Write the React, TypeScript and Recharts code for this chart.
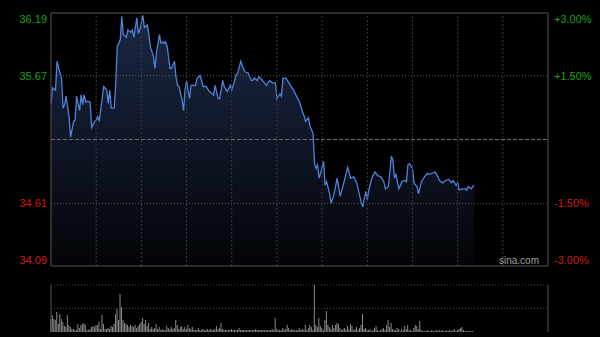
import { AreaChart, Area, BarChart, Bar, XAxis, YAxis, ReferenceLine } from "recharts";

// trading minutes since open (330 min session) and last price
const minutes = [
  0, 1, 3, 4, 6, 7, 8, 9, 10, 12, 13, 15, 16, 17, 19, 20, 21, 22, 23, 24, 26, 27, 29, 30, 31, 32, 35, 37, 38, 39,
  40, 42, 43, 44, 46, 47, 48, 50, 51, 53, 54, 55, 57, 58, 59, 61, 62, 64, 65, 66, 68, 69, 70, 72, 73, 74, 75, 76, 77, 78,
  79, 80, 82, 83, 84, 85, 87, 88, 89, 90, 91, 92, 93, 95, 96, 97, 99, 100, 101, 103, 105, 106, 108, 109, 111, 112, 114, 115, 117, 119,
  120, 122, 123, 124, 126, 128, 129, 131, 133, 134, 135, 137, 138, 139, 141, 143, 144, 145, 147, 149, 150, 152, 153, 154, 156, 158, 159, 161, 163, 165,
  167, 168, 169, 171, 172, 174, 175, 176, 177, 178, 179, 181, 182, 183, 185, 186, 188, 190, 192, 194, 197, 199, 201, 203, 205, 206, 207, 209, 210, 211,
  213, 215, 217, 219, 221, 222, 224, 225, 226, 227, 228, 229, 230, 231, 233, 235, 236, 237, 238, 240, 241, 243, 244, 246, 248, 250, 251, 253, 255, 256,
  258, 260, 262, 264, 266, 267, 269, 270, 271, 273, 275, 276, 277, 279, 280, 281,
];
const prices = [
  35.44, 35.57, 35.55, 35.79, 35.69, 35.65, 35.4, 35.43, 35.5, 35.33, 35.16, 35.29, 35.3, 35.5, 35.38, 35.51, 35.43, 35.51, 35.45, 35.46, 35.45, 35.24, 35.29, 35.3, 35.33, 35.29, 35.58, 35.55, 35.44, 35.55,
  35.4, 35.4, 35.61, 35.91, 35.97, 36.16, 36.01, 35.99, 36.05, 36.03, 36.05, 35.99, 36.15, 36.02, 36.05, 36.17, 36.07, 36.09, 36.01, 35.91, 35.83, 35.73, 35.86, 36.01, 35.94, 35.95, 35.94, 35.95, 35.92, 35.83,
  35.73, 35.73, 35.79, 35.66, 35.59, 35.58, 35.47, 35.38, 35.55, 35.63, 35.55, 35.48, 35.59, 35.59, 35.59, 35.65, 35.67, 35.63, 35.58, 35.58, 35.54, 35.53, 35.51, 35.59, 35.48, 35.48, 35.63, 35.58, 35.54, 35.59,
  35.55, 35.63, 35.68, 35.69, 35.79, 35.72, 35.7, 35.69, 35.63, 35.63, 35.65, 35.63, 35.66, 35.65, 35.62, 35.59, 35.61, 35.63, 35.61, 35.61, 35.48, 35.52, 35.5, 35.65, 35.65, 35.61, 35.59, 35.55, 35.5, 35.45,
  35.37, 35.34, 35.29, 35.32, 35.25, 35.19, 34.94, 34.9, 34.93, 34.82, 34.86, 34.96, 34.76, 34.79, 34.69, 34.61, 34.69, 34.82, 34.67, 34.76, 34.91, 34.82, 34.83, 34.78, 34.67, 34.62, 34.58, 34.71, 34.64, 34.72,
  34.82, 34.87, 34.84, 34.83, 34.79, 34.73, 34.75, 34.87, 35.0, 34.97, 34.82, 34.85, 34.79, 34.73, 34.79, 34.8, 34.79, 34.93, 34.94, 34.9, 34.78, 34.75, 34.69, 34.79, 34.83, 34.86, 34.85, 34.86, 34.87, 34.85,
  34.8, 34.78, 34.8, 34.81, 34.78, 34.8, 34.76, 34.78, 34.72, 34.73, 34.73, 34.72, 34.75, 34.73, 34.75, 34.76,
];
// volume per minute, index = minute
const volumes = [
  13, 17, 13, 12, 20, 8, 18, 13, 10, 6,
  5, 17, 7, 5, 3, 3, 2, 2, 8, 4,
  7, 8, 9, 7, 2, 2, 3, 5, 6, 5,
  7, 7, 10, 3, 17, 8, 3, 3, 4, 3,
  6, 5, 8, 18, 23, 12, 38, 25, 12, 9,
  8, 7, 5, 7, 6, 5, 7, 4, 6, 8,
  10, 14, 8, 12, 6, 9, 3, 5, 3, 4,
  8, 3, 5, 2, 3, 2, 2, 6, 4, 3,
  5, 3, 4, 12, 7, 3, 5, 6, 3, 5,
  3, 7, 4, 3, 5, 2, 2, 2, 4, 2,
  2, 3, 2, 2, 3, 2, 3, 2, 2, 3,
  6, 3, 4, 9, 3, 2, 2, 2, 2, 2,
  3, 2, 2, 2, 2, 4, 2, 2, 2, 2,
  2, 2, 2, 2, 2, 2, 3, 2, 2, 2,
  2, 2, 2, 2, 2, 2, 2, 3, 2, 14,
  3, 2, 2, 2, 4, 2, 3, 7, 4, 2,
  3, 2, 2, 2, 2, 4, 2, 3, 2, 7,
  2, 4, 7, 5, 2, 47, 7, 5, 14, 6,
  4, 2, 12, 21, 7, 5, 3, 7, 4, 7,
  9, 8, 4, 2, 3, 4, 2, 6, 3, 8,
  6, 2, 3, 5, 2, 4, 7, 18, 3, 4,
  2, 2, 3, 1, 2, 4, 6, 2, 1, 2,
  3, 4, 2, 7, 12, 5, 9, 3, 2, 2,
  4, 3, 1, 3, 2, 6, 3, 7, 2, 2,
  1, 4, 7, 6, 3, 11, 2, 1, 1, 1,
  2, 1, 1, 2, 1, 1, 2, 1, 2, 1,
  2, 1, 1, 2, 1, 2, 1, 2, 3, 1,
  2, 3, 4, 5, 2, 1, 1, 1, 1, 1,
  1,
];

const priceTicks = [36.19, 35.67, 34.61, 34.09];
const pctTicks = [3, 1.5, -1.5, -3];
const prevClose = 35.14;
const sessionLength = 330;
const timeGrid = [30, 60, 90, 120, 150, 180, 210, 240, 270, 300];
const volumeTicks = [47, 23.5];

const priceData = minutes.map((m, i) => ({
  minute: m,
  price: prices[i],
  pct: (prices[i] / prevClose - 1) * 100,
}));
const volumeData = volumes.map((v, i) => ({ minute: i, volume: v }));

const FONT = "'Liberation Sans', Arial, sans-serif";
const UP = "#17a317";
const DOWN = "#d01818";
const BORDER = "#555";

const edgeShift = (i: number, n: number) => (i === 0 ? 6 : i === n - 1 ? -6 : 0);

const PriceTick = (props: any) => {
  const { x, y, payload, index } = props;
  const v = payload.value;
  return (
    <text x={x} y={y + edgeShift(index, priceTicks.length)} dy={4} textAnchor="end" fill={v > prevClose ? UP : DOWN} fontSize={11} fontFamily={FONT}>
      {v.toFixed(2)}
    </text>
  );
};

const PctTick = (props: any) => {
  const { x, y, payload, index } = props;
  const v = payload.value;
  return (
    <text x={x} y={y + edgeShift(index, pctTicks.length)} dy={4} textAnchor="start" fill={v > 0 ? UP : DOWN} fontSize={11} fontFamily={FONT}>
      {(v > 0 ? "+" : "") + v.toFixed(2) + "%"}
    </text>
  );
};

export default function App() {
  return (
    <div style={{ position: "fixed", left: 0, top: 0, width: 600, height: 337, background: "#000", overflow: "hidden" }}>
      <AreaChart width={600} height={270} data={priceData} margin={{ top: 13, right: 0, left: 0, bottom: 4 }}>
        <defs>
          <linearGradient id="priceFill" x1="0" y1="0" x2="0" y2="1">
            <stop offset="0%" stopColor="#4a6fc0" stopOpacity={0.36} />
            <stop offset="100%" stopColor="#4a6fc0" stopOpacity={0.04} />
          </linearGradient>
        </defs>
        <XAxis dataKey="minute" type="number" domain={[0, sessionLength]} hide />
        <YAxis
          domain={[priceTicks[priceTicks.length - 1], priceTicks[0]]}
          ticks={priceTicks}
          width={51}
          axisLine={false}
          tickLine={false}
          tickSize={0}
          tickMargin={4}
          tick={PriceTick}
          interval={0}
          allowDataOverflow
        />
        <YAxis
          yAxisId="pct"
          orientation="right"
          domain={[-3, 3]}
          ticks={pctTicks}
          width={52}
          axisLine={false}
          tickLine={false}
          tickSize={0}
          tickMargin={6}
          tick={PctTick}
          interval={0}
          allowDataOverflow
        />
        {timeGrid.map((t) => (
          <ReferenceLine key={t} x={t} stroke="#3a3a3a" strokeDasharray="2 2" />
        ))}
        <ReferenceLine y={priceTicks[1]} stroke="#5a5a5a" strokeDasharray="1 2" />
        <ReferenceLine y={priceTicks[2]} stroke="#5a5a5a" strokeDasharray="1 2" />
        <ReferenceLine y={prevClose} stroke="#6e6e6e" strokeDasharray="4 2" />
        <Area
          yAxisId="pct"
          type="linear"
          dataKey="pct"
          stroke="none"
          fill="none"
          dot={false}
          activeDot={false}
          isAnimationActive={false}
        />
        <Area
          type="linear"
          dataKey="price"
          stroke="#4f82d8"
          strokeWidth={1.3}
          fill="url(#priceFill)"
          fillOpacity={1}
          dot={false}
          activeDot={false}
          isAnimationActive={false}
        />
        <ReferenceLine y={priceTicks[0]} stroke={BORDER} />
        <ReferenceLine y={priceTicks[priceTicks.length - 1]} stroke={BORDER} />
        <ReferenceLine x={0} stroke={BORDER} />
        <ReferenceLine x={sessionLength} stroke={BORDER} />
      </AreaChart>
      <div style={{ position: "absolute", left: 499, top: 255, fontFamily: FONT, fontSize: 10, color: "#a0a0a0" }}>sina.com</div>
      <div style={{ position: "absolute", left: 0, top: 280 }}>
        <BarChart width={600} height={57} data={volumeData} margin={{ top: 5, right: 52, left: 51, bottom: 5 }}>
          <XAxis dataKey="minute" type="number" domain={[0, sessionLength]} hide />
          <YAxis domain={[0, volumeTicks[0]]} hide />
          {volumeTicks.map((v) => (
            <ReferenceLine key={v} y={v} stroke="#4a4a4a" strokeDasharray="1 2" />
          ))}
          <ReferenceLine x={0} stroke={BORDER} />
          <ReferenceLine x={sessionLength} stroke={BORDER} />
          <Bar dataKey="volume" fill="#8c8c8c" barSize={1} isAnimationActive={false} />
        </BarChart>
      </div>
    </div>
  );
}
